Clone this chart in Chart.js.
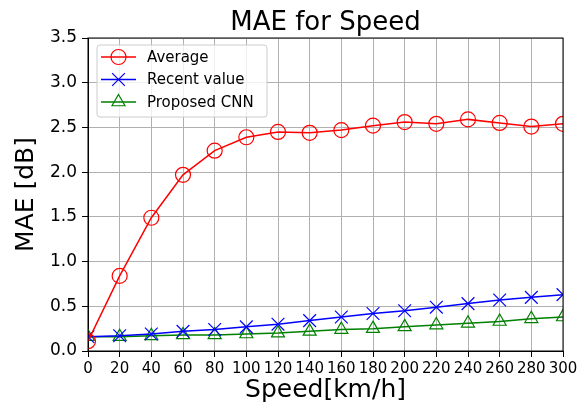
<!DOCTYPE html>
<html>
<head>
<meta charset="utf-8">
<script src="https://cdn.jsdelivr.net/npm/chart.js@4"></script>
<style>
  html, body { margin: 0; padding: 0; background: #fff; }
  #chart { display: block; }
</style>
</head>
<body>
<canvas id="chart" width="578" height="403"></canvas>
<script>
// values
const speeds = [0, 20, 40, 60, 80, 100, 120, 140, 160, 180, 200, 220, 240, 260, 280, 300];
const averageMae = [0.11, 0.84, 1.49, 1.97, 2.24, 2.39, 2.45, 2.44, 2.47, 2.52, 2.56, 2.54, 2.59, 2.55, 2.51, 2.54];
const recentMae = [0.16, 0.17, 0.19, 0.22, 0.24, 0.27, 0.30, 0.34, 0.38, 0.42, 0.45, 0.49, 0.53, 0.57, 0.60, 0.63];
const cnnMae = [0.16, 0.16, 0.17, 0.18, 0.18, 0.19, 0.20, 0.22, 0.24, 0.25, 0.27, 0.29, 0.31, 0.33, 0.36, 0.38];
const seriesNames = ['Average', 'Recent value', 'Proposed CNN'];

const FONT = "'DejaVu Sans', sans-serif";
Chart.defaults.color = '#000';
Chart.defaults.font.family = FONT;

const toPoints = (ys) => speeds.map((s, i) => ({ x: s, y: ys[i] }));

function series(label, ys, color, style, radius) {
  return {
    label,
    data: toPoints(ys),
    borderColor: color,
    borderWidth: 1.5,
    pointStyle: style,
    pointRadius: radius,
    pointBorderColor: color,
    pointBackgroundColor: 'rgba(0,0,0,0)',
    pointBorderWidth: 1.2,
    tension: 0,
    clip: 0
  };
}

// matplotlib-like frame + legend box
const frameAndLegend = {
  id: 'frameAndLegend',
  afterDatasetsDraw(chart) {
    const { ctx, chartArea: a } = chart;
    ctx.save();
    ctx.strokeStyle = '#000';
    ctx.lineWidth = 1;
    ctx.strokeRect(a.left, a.top, a.right - a.left, a.bottom - a.top);

    const bx = a.left + 9, by = a.top + 7, bw = 170, bh = 72;
    ctx.beginPath();
    ctx.roundRect(bx, by, bw, bh, 3);
    ctx.fillStyle = 'rgba(255,255,255,0.8)';
    ctx.fill();
    ctx.strokeStyle = '#cccccc';
    ctx.stroke();

    ctx.font = '15px ' + FONT;
    ctx.textBaseline = 'middle';
    chart.data.datasets.forEach((ds, i) => {
      const y = by + 12 + i * 22.5;
      ctx.strokeStyle = ds.borderColor;
      ctx.lineWidth = ds.borderWidth;
      ctx.beginPath();
      ctx.moveTo(bx + 4, y);
      ctx.lineTo(bx + 39, y);
      ctx.stroke();
      ctx.fillStyle = 'rgba(0,0,0,0)';
      ctx.lineWidth = ds.pointBorderWidth;
      Chart.helpers.drawPoint(ctx, {
        pointStyle: ds.pointStyle,
        radius: ds.pointRadius,
        borderWidth: ds.pointBorderWidth,
        rotation: 0
      }, bx + 21.5, y);
      ctx.fillStyle = '#000';
      ctx.fillText(ds.label, bx + 50, y + 1);
    });
    ctx.restore();
  }
};

new Chart(document.getElementById('chart'), {
  type: 'line',
  data: {
    datasets: [
      series(seriesNames[0], averageMae, '#ff0000', 'circle', 7.5),
      series(seriesNames[1], recentMae, '#0000ff', 'crossRot', 9),
      series(seriesNames[2], cnnMae, '#008000', 'triangle', 7.5)
    ]
  },
  options: {
    responsive: false,
    animation: false,
    layout: { padding: 0 },
    plugins: {
      legend: { display: false },
      tooltip: { enabled: false },
      title: {
        display: true,
        fullSize: false,
        text: 'MAE for Speed',
        font: { size: 26, weight: 'normal', lineHeight: 1 },
        color: '#000',
        padding: { top: 10, bottom: 2 }
      }
    },
    scales: {
      x: {
        type: 'linear',
        min: 0,
        max: 300,
        ticks: { stepSize: 20, autoSkip: false, maxRotation: 0, padding: 3, font: { size: 15 } },
        grid: { color: '#b0b0b0', lineWidth: 1, tickLength: 6, tickColor: '#000' },
        border: { display: true, color: '#000', width: 1 },
        title: {
          display: true,
          text: 'Speed[km/h]',
          font: { size: 25, lineHeight: 1 },
          padding: { top: 0, bottom: 0 }
        },
        afterFit(scale) { scale.height = 52; scale.paddingRight = 15; }
      },
      y: {
        min: 0,
        max: 3.5,
        ticks: { stepSize: 0.5, padding: 5, font: { size: 17 }, callback: (v) => v.toFixed(1) },
        grid: { color: '#b0b0b0', lineWidth: 1, tickLength: 6, tickColor: '#000' },
        border: { display: true, color: '#000', width: 1 },
        title: {
          display: true,
          text: 'MAE [dB]',
          font: { size: 25, lineHeight: 1 },
          padding: { top: 14, bottom: 0 }
        },
        afterFit(scale) { scale.width = 88; }
      }
    }
  },
  plugins: [frameAndLegend]
});
</script>
</body>
</html>
